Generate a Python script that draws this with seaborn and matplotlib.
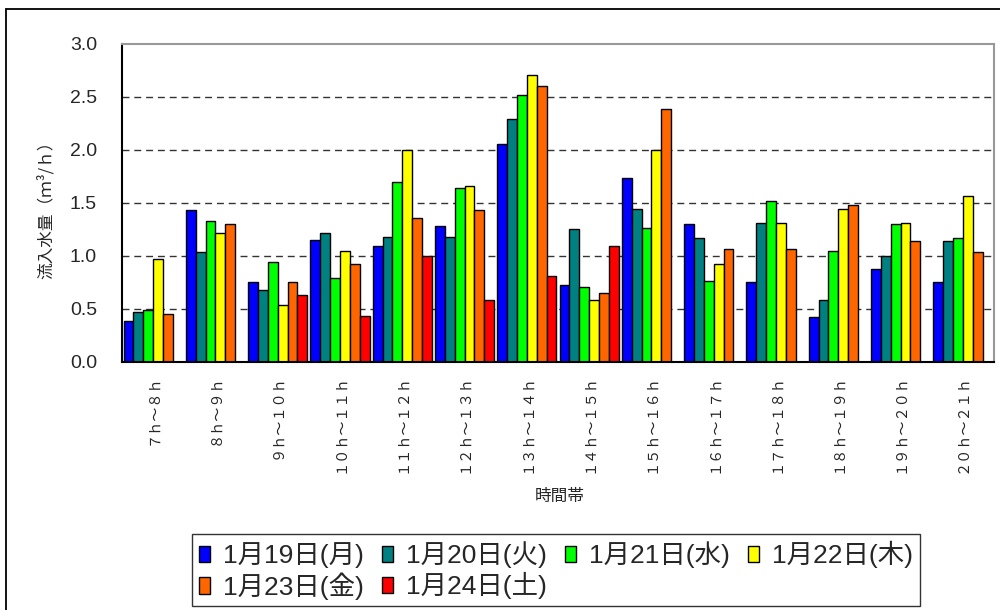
import numpy as np
import pandas as pd
import matplotlib
matplotlib.use("Agg")
import matplotlib.pyplot as plt
from matplotlib.lines import Line2D
import seaborn as sns

# -------------------------------------------------
# data
# -------------------------------------------------
time_bands = ["７ｈ～８ｈ", "８ｈ～９ｈ", "９ｈ～１０ｈ", "１０ｈ～１１ｈ", "１１ｈ～１２ｈ",
              "１２ｈ～１３ｈ", "１３ｈ～１４ｈ", "１４ｈ～１５ｈ", "１５ｈ～１６ｈ",
              "１６ｈ～１７ｈ", "１７ｈ～１８ｈ", "１８ｈ～１９ｈ", "１９ｈ～２０ｈ",
              "２０ｈ～２１ｈ"]
days = ["1月19日(月)", "1月20日(火)", "1月21日(水)", "1月22日(木)", "1月23日(金)", "1月24日(土)"]
colors = ["#0000FF", "#008080", "#00FF00", "#FFFF00", "#FF6600", "#FF0000"]

nan = np.nan
jan19 = [0.39, 1.43, 0.75, 1.15, 1.09, 1.28, 2.06, 0.73, 1.74, 1.30, 0.75, 0.42, 0.88, 0.75]
jan20 = [0.47, 1.04, 0.68, 1.22, 1.18, 1.18, 2.29, 1.25, 1.44, 1.17, 1.31, 0.58, 1.00, 1.14]
jan21 = [0.49, 1.33, 0.94, 0.79, 1.70, 1.64, 2.52, 0.71, 1.26, 0.76, 1.52, 1.05, 1.30, 1.17]
jan22 = [0.97, 1.22, 0.54, 1.05, 2.00, 1.66, 2.71, 0.58, 2.00, 0.92, 1.31, 1.44, 1.31, 1.57]
jan23 = [0.45, 1.30, 0.75, 0.92, 1.36, 1.43, 2.60, 0.65, 2.39, 1.07, 1.07, 1.48, 1.14, 1.04]
jan24 = [nan, nan, 0.63, 0.43, 1.00, 0.58, 0.81, 1.09, nan, nan, nan, nan, nan, nan]

series = [jan19, jan20, jan21, jan22, jan23, jan24]
rows = []
for day, vals in zip(days, series):
    for band, v in zip(time_bands, vals):
        rows.append({"時間帯": band, "流入水量": v, "日付": day})
df = pd.DataFrame(rows).dropna()

# -------------------------------------------------
# figure
# -------------------------------------------------
sns.set_style("white")
plt.rcParams["font.family"] = ["Liberation Sans", "Noto Sans CJK JP", "DejaVu Sans"]
cjk = ["Noto Sans CJK JP", "DejaVu Sans"]

fig = plt.figure(figsize=(10, 6.1), dpi=100)
ax = fig.add_axes([0.122, 0.4066, 0.872, 0.5213])

sns.barplot(data=df, x="時間帯", y="流入水量", hue="日付",
            order=time_bands, hue_order=days, palette=colors, saturation=1,
            width=0.95, edgecolor="black", linewidth=1.0,
            errorbar=None, ax=ax)

ax.set_xlim(-0.5, len(time_bands) - 0.5)
ax.set_ylim(0, 3.0)
ax.set_yticks(np.arange(0, 3.01, 0.5))
ax.set_yticklabels([f"{t:.1f}" for t in np.arange(0, 3.01, 0.5)], fontsize=14)
ax.tick_params(axis="y", length=0, pad=18)
ax.tick_params(axis="x", length=0, pad=9)
for lbl in ax.get_xticklabels():
    lbl.set_rotation(90)
    lbl.set_fontsize(10.2)
    lbl.set_family(cjk)

# dashed grid, skip the lines that sit on the frame
ax.set_axisbelow(True)
ax.yaxis.grid(True, color="#333333", linestyle=(0, (5, 3.5)), linewidth=1.0)
gl = ax.get_ygridlines()
gl[0].set_visible(False)
gl[-1].set_visible(False)

for side in ["left", "bottom"]:
    ax.spines[side].set_color("black")
    ax.spines[side].set_linewidth(1.5)
for side in ["top", "right"]:
    ax.spines[side].set_visible(True)
    ax.spines[side].set_color("#999999")
    ax.spines[side].set_linewidth(1.5)

ax.set_ylabel("流入水量（ｍ³/ｈ）", fontsize=12, family=cjk)
ax.yaxis.set_label_coords(-0.077, 0.49)
ax.set_xlabel("時間帯", fontsize=12, family=cjk)
ax.xaxis.set_label_coords(0.502, -0.395)

# legend, filled row by row
handles, labels = ax.get_legend_handles_labels()
ax.legend_.remove()
order = [0, 4, 1, 5, 2, 3]
leg = fig.legend([handles[i] for i in order], [labels[i] for i in order],
                 ncol=4, loc="center", bbox_to_anchor=(0.556, 0.065),
                 fontsize=19, frameon=True, fancybox=False, edgecolor="black",
                 handlelength=0.4, handleheight=0.6, handletextpad=0.5,
                 columnspacing=0.7, labelspacing=0.15, borderpad=0.25,
                 borderaxespad=0)
leg.get_frame().set_linewidth(1.0)

# outer chart frame
fig.add_artist(Line2D([0.006, 1.0], [0.985, 0.985], color="black", lw=1.3,
                      transform=fig.transFigure))
fig.add_artist(Line2D([0.006, 0.006], [0.0, 0.985], color="black", lw=1.3,
                      transform=fig.transFigure))

fig.savefig("out.png", dpi=100)
